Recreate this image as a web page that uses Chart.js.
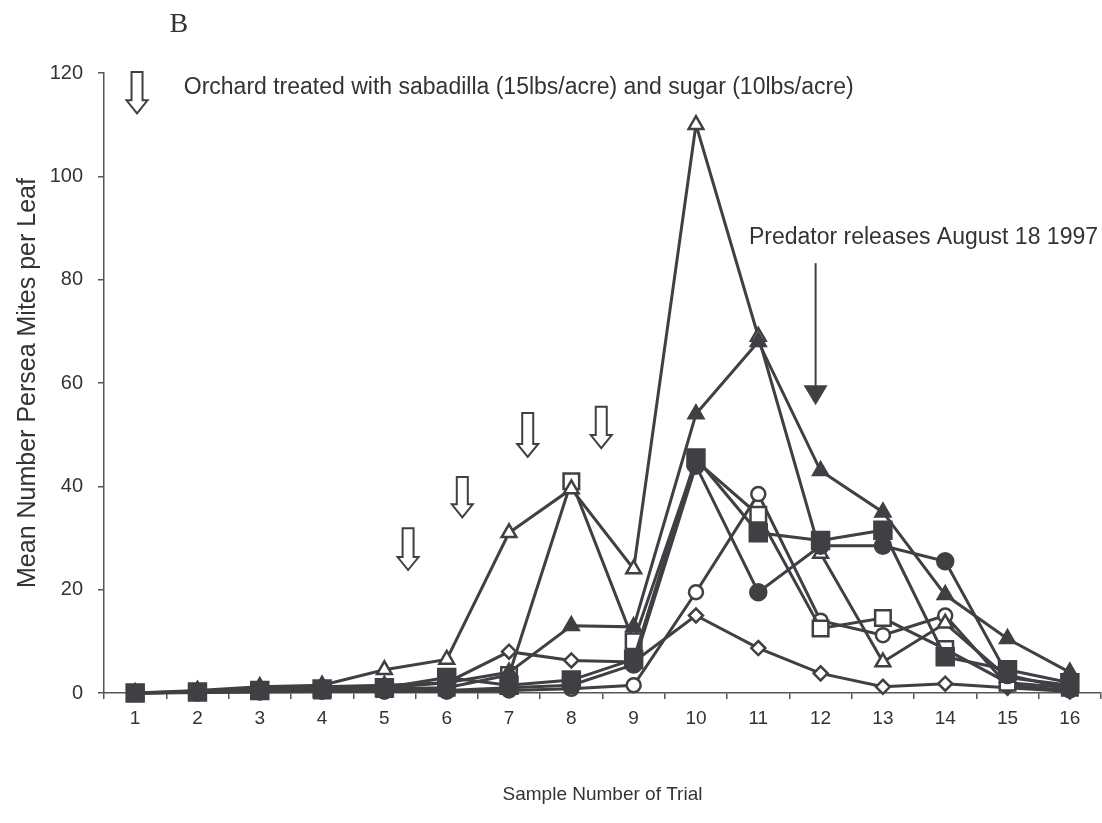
<!DOCTYPE html>
<html><head><meta charset="utf-8">
<script src="https://cdn.jsdelivr.net/npm/chart.js@4/dist/chart.umd.min.js"></script>
<style>html,body{margin:0;padding:0;background:#fff}#wrap{width:1102px;height:823px;position:relative}</style>
</head><body><div id="wrap"><canvas id="c"></canvas></div>
<script>
// ---- data ----
const trials = ['1','2','3','4','5','6','7','8','9','10','11','12','13','14','15','16'];
const filledTriangle = [0, 0.3, 0.8, 1.2, 1.5, 2, 4, 13, 12.8, 54, 68, 43, 35, 19, 10.5, 4];
const openTriangle   = [0, 0.5, 1.2, 1.5, 4.5, 6.5, 31, 39.5, 24, 110, 69, 27, 6, 13.5, 3, 1.5];
const filledSquare   = [0, 0.2, 0.5, 0.8, 1, 3, 1.5, 2.5, 6.5, 45.5, 31, 29.5, 31.5, 7, 4.5, 2];
const openSquare     = [0, 0.2, 0.4, 0.5, 0.8, 1, 3.5, 41, 10, 45, 34.5, 12.5, 14.5, 8.5, 2, 1];
const filledCircle   = [0, 0.1, 0.3, 0.5, 0.5, 0.5, 1, 1.5, 5.5, 44, 19.5, 28.5, 28.5, 25.5, 3.5, 0.8];
const openCircle     = [0, 0.1, 0.2, 0.3, 0.3, 0.3, 0.5, 0.8, 1.5, 19.5, 38.5, 14, 11.2, 15, 1.5, 0.5];
const openDiamond    = [0, 0.2, 0.5, 0.8, 1, 2, 8, 6.3, 6, 15, 8.7, 3.8, 1.2, 1.8, 1, 0.3];
const yMin = 0, yMax = 120, yStep = 20;

const panelLabel = 'B';
const xTitle = 'Sample Number of Trial';
const yTitle = 'Mean Number Persea Mites per Leaf';
const treatText = 'Orchard treated with sabadilla (15lbs/acre) and sugar (10lbs/acre)';
const predatorText = 'Predator releases August 18 1997';
// treatment arrows: trial position, top value, tip value
const treatArrowX   = [1.03, 5.38, 6.25, 7.30, 8.48];
const treatArrowTop = [120.2, 31.9, 41.8, 54.2, 55.4];
const treatArrowTip = [112.2, 23.8, 34.0, 45.7, 47.4];
// predator release arrow: trial position, top value, tip value
const predatorArrow = [11.92, 83.2, 55.7];

const INK = '#404044';
const TXT = '#333336';
const SANS = '"Liberation Sans", Arial, sans-serif';

function ds(label, data, style, filled, radius){
  return {label, data, borderColor: INK, backgroundColor: INK, borderWidth: 3,
    pointStyle: style, pointRadius: radius, pointHoverRadius: radius,
    pointBackgroundColor: filled ? INK : '#ffffff', pointBorderColor: INK,
    pointBorderWidth: 2.5, tension: 0, fill: false, clip: false};
}

const annot = {
  id: 'annot',
  afterDraw(chart){
    const {ctx, scales:{x, y}} = chart;
    const px = t => x.getPixelForValue(t - 1);
    const py = v => y.getPixelForValue(v);
    ctx.save();
    ctx.fillStyle = TXT;
    ctx.font = '28px "Liberation Serif", "DejaVu Serif", serif';
    ctx.textAlign = 'center'; ctx.textBaseline = 'middle';
    ctx.fillText(panelLabel, px(1.70), py(129.4));
    ctx.font = '23px ' + SANS;
    ctx.textAlign = 'left';
    ctx.fillText(treatText, px(1.78), py(117.1));
    ctx.fillText(predatorText, px(10.85), py(88.1));
    // open arrows
    ctx.lineWidth = 2; ctx.strokeStyle = INK; ctx.fillStyle = '#fff';
    for (let i = 0; i < treatArrowX.length; i++){
      const cx = px(treatArrowX[i]), yt = py(treatArrowTop[i]), yb = py(treatArrowTip[i]);
      const sw = 5.5, hw = 10.5, hh = 13;
      ctx.beginPath();
      ctx.moveTo(cx - sw, yt); ctx.lineTo(cx + sw, yt); ctx.lineTo(cx + sw, yb - hh);
      ctx.lineTo(cx + hw, yb - hh); ctx.lineTo(cx, yb); ctx.lineTo(cx - hw, yb - hh);
      ctx.lineTo(cx - sw, yb - hh); ctx.closePath();
      ctx.fill(); ctx.stroke();
    }
    // predator arrow
    const ax = px(predatorArrow[0]), at = py(predatorArrow[1]), ab = py(predatorArrow[2]);
    ctx.beginPath(); ctx.moveTo(ax, at); ctx.lineTo(ax, ab - 18); ctx.stroke();
    ctx.fillStyle = INK;
    ctx.beginPath(); ctx.moveTo(ax - 12, ab - 20); ctx.lineTo(ax + 12, ab - 20); ctx.lineTo(ax, ab); ctx.closePath(); ctx.fill();
    ctx.restore();
  }
};

// Chart.js draws the first dataset on top
new Chart(document.getElementById('c'), {
  type: 'line',
  data: {
    labels: trials,
    datasets: [
      ds('Filled square', filledSquare, 'rect', true, 12),
      ds('Filled triangle', filledTriangle, 'triangle', true, 8.5),
      ds('Filled circle', filledCircle, 'circle', true, 8),
      ds('Open triangle', openTriangle, 'triangle', false, 8.5),
      ds('Open square', openSquare, 'rect', false, 11),
      ds('Open circle', openCircle, 'circle', false, 7),
      ds('Open diamond', openDiamond, 'rectRot', false, 7)
    ]
  },
  options: {
    responsive: true, maintainAspectRatio: false, animation: false,
    layout: {autoPadding: false, padding: {top: 73, right: 1, left: 0, bottom: 0}},
    plugins: {legend: {display: false}, tooltip: {enabled: false}},
    scales: {
      x: {
        type: 'category', offset: true,
        grid: {offset: true, drawOnChartArea: false, drawTicks: true, tickLength: 6, color: '#555', lineWidth: 1.5},
        border: {display: true, color: '#555', width: 1.5},
        ticks: {font: {size: 19, family: SANS}, color: TXT, padding: 8, maxRotation: 0, autoSkip: false},
        title: {display: true, text: xTitle, font: {size: 19, family: SANS}, color: TXT, padding: {top: 0, bottom: 17}},
        afterFit(s){ s.height = 130; s.paddingLeft = 0; s.paddingRight = 0; }
      },
      y: {
        min: yMin, max: yMax,
        grid: {drawOnChartArea: false, drawTicks: true, tickLength: 6, color: '#555', lineWidth: 1.5},
        border: {display: true, color: '#555', width: 1.5},
        ticks: {stepSize: yStep, font: {size: 20, family: SANS}, color: TXT, padding: 15},
        title: {display: true, text: yTitle, font: {size: 25, family: SANS}, color: TXT, padding: {top: 13, bottom: 0}},
        afterFit(s){ s.width = 104; }
      }
    }
  },
  plugins: [annot]
});
</script>
</body></html>
